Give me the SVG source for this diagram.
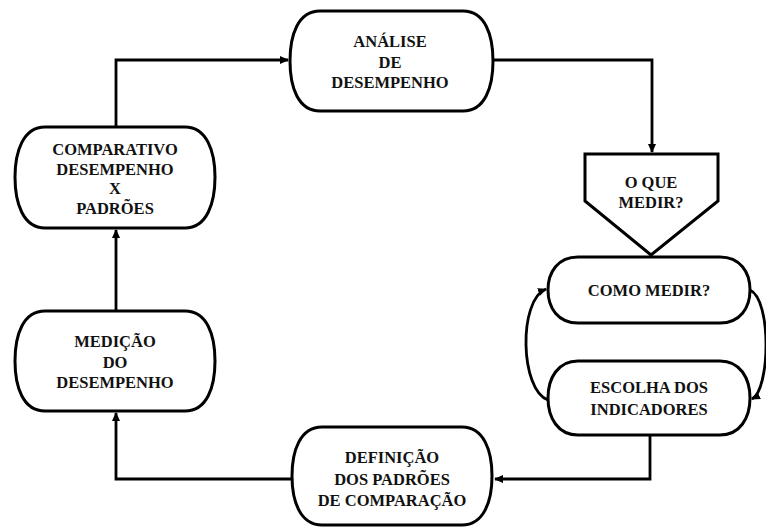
<svg xmlns="http://www.w3.org/2000/svg" width="766" height="527" viewBox="0 0 766 527">
<style>
.n{fill:#fff;stroke:#000;stroke-width:3}
.c{fill:none;stroke:#000;stroke-width:2.8}
.t{font-family:"Liberation Serif","Times New Roman","DejaVu Serif",serif;font-weight:700;font-size:16.5px;text-anchor:middle;fill:#111}
</style>
<defs>
<marker id="a" markerWidth="10" markerHeight="10" refX="8" refY="5" orient="auto" markerUnits="userSpaceOnUse">
<path d="M0,1 L9,5 L0,9 Z" fill="#000"/>
</marker>
</defs>
<g id="connectors">
<path class="c" d="M116,127 V60 H288" marker-end="url(#a)"/>
<path class="c" d="M493,60 H652 V152" marker-end="url(#a)"/>
<path class="c" d="M650,435 V479 H495" marker-end="url(#a)"/>
<path class="c" d="M292,479 H116 V413" marker-end="url(#a)"/>
<path class="c" d="M116,311 V230" marker-end="url(#a)"/>
<path class="c" d="M548,400 C520,390 518,300 546,289" marker-end="url(#a)"/>
<path class="c" d="M750,290 C772,300 770,390 752,399" marker-end="url(#a)"/>
</g>
<g id="analise">
<path class="n" d="M320,11 H463 C485,11 493,35 493,61 C493,87 485,111 463,111 H320 C298,111 290,87 290,61 C290,35 298,11 320,11 Z"/>
<text class="t" x="390" y="47">ANÁLISE</text>
<text class="t" x="390" y="68">DE</text>
<text class="t" x="390" y="88">DESEMPENHO</text>
</g>
<g id="oquemedir">
<path class="n" d="M585,154 H718 V201 L651,255 L585,201 Z"/>
<text class="t" x="651" y="188">O QUE</text>
<text class="t" x="651" y="208">MEDIR?</text>
</g>
<g id="comomedir">
<path class="n" d="M578,257 H720 C740,257 750,272 750,290 C750,308 740,323 720,323 H578 C558,323 548,308 548,290 C548,272 558,257 578,257 Z"/>
<text class="t" x="649" y="296">COMO MEDIR?</text>
</g>
<g id="escolha">
<path class="n" d="M578,361 H720 C740,361 750,378 750,398 C750,418 740,435 720,435 H578 C558,435 548,418 548,398 C548,378 558,361 578,361 Z"/>
<text class="t" x="649" y="393">ESCOLHA DOS</text>
<text class="t" x="649" y="415">INDICADORES</text>
</g>
<g id="definicao">
<path class="n" d="M322,427 H462 C484,427 492,451 492,476 C492,501 484,525 462,525 H322 C300,525 292,501 292,476 C292,451 300,427 322,427 Z"/>
<text class="t" x="392" y="463">DEFINIÇÃO</text>
<text class="t" x="392" y="485">DOS PADRÕES</text>
<text class="t" x="392" y="506">DE COMPARAÇÃO</text>
</g>
<g id="medicao">
<path class="n" d="M45,311 H185 C207,311 215,335 215,361 C215,387 207,411 185,411 H45 C23,411 15,387 15,361 C15,335 23,311 45,311 Z"/>
<text class="t" x="115" y="347">MEDIÇÃO</text>
<text class="t" x="115" y="368">DO</text>
<text class="t" x="115" y="388">DESEMPENHO</text>
</g>
<g id="comparativo">
<path class="n" d="M45,127 H185 C207,127 215,152 215,177 C215,203 207,228 185,228 H45 C23,228 15,203 15,177 C15,152 23,127 45,127 Z"/>
<text class="t" x="115" y="155">COMPARATIVO</text>
<text class="t" x="115" y="175">DESEMPENHO</text>
<text class="t" x="115" y="194">X</text>
<text class="t" x="115" y="214">PADRÕES</text>
</g>
</svg>
